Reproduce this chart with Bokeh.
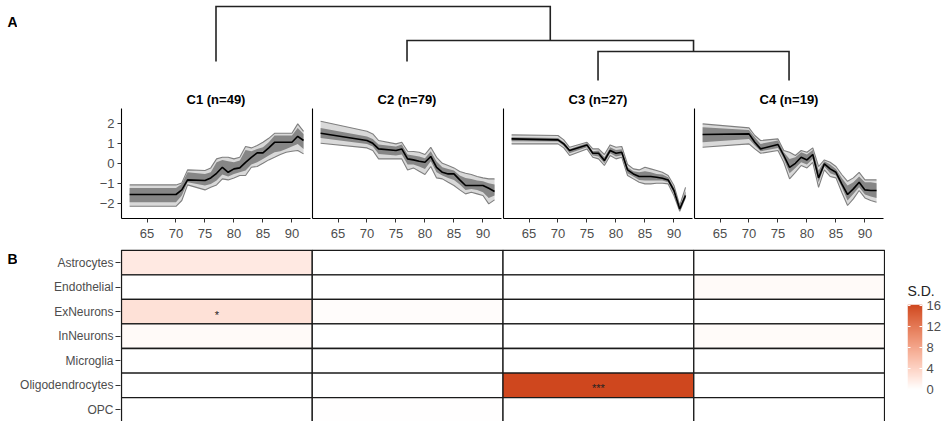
import numpy as np
from bokeh.plotting import figure
from bokeh.layouts import column, row
from bokeh.models import (Range1d, FixedTicker, ColumnDataSource, LinearColorMapper, Label)
from bokeh.core.properties import value
from bokeh.embed import file_html
from bokeh.resources import INLINE

FONT = "Liberation Sans"

# ---------------- data ----------------
years = [62, 70, 71, 72, 75, 76, 77, 78, 79, 80, 81, 82, 83, 84, 85, 86, 87, 88, 89, 90, 91, 92]
clusters = ["C1", "C2", "C3", "C4"]
cluster_n = [49, 79, 27, 19]

c1_med = [-1.53, -1.53, -1.3, -0.8, -0.83, -0.7, -0.47, -0.17, -0.42, -0.25, -0.2, 0.08, 0.33, 0.55, 0.55, 0.8, 1.08, 1.08, 1.08, 1.08, 1.38, 1.17]
c1_outer_hi = [-1.05, -1.05, -0.95, -0.3, -0.33, -0.2, 0.25, 0.33, 0.33, 0.25, 0.33, 0.87, 0.8, 0.92, 1.08, 1.28, 1.53, 1.53, 1.53, 1.53, 2.0, 1.63]
c1_outer_lo = [-2.12, -2.12, -1.83, -1.05, -1.3, -1.17, -1.05, -0.75, -0.8, -0.7, -0.58, -0.58, -0.17, -0.13, 0.03, 0.2, 0.33, 0.47, 0.58, 0.63, 0.67, 0.5]
c1_inner_hi = [-1.2, -1.2, -1.0, -0.42, -0.5, -0.42, 0.08, 0.2, 0.13, 0.08, 0.17, 0.7, 0.63, 0.75, 0.83, 1.08, 1.42, 1.42, 1.42, 1.42, 1.8, 1.5]
c1_inner_lo = [-1.92, -1.92, -1.58, -0.92, -1.08, -1.0, -0.83, -0.53, -0.63, -0.5, -0.42, -0.33, -0.03, 0.08, 0.25, 0.42, 0.58, 0.63, 0.75, 0.87, 1.0, 0.75]

c2_med = [1.53, 1.17, 1.03, 0.75, 0.67, 0.75, 0.25, 0.2, 0.13, 0.08, 0.37, -0.17, -0.42, -0.5, -0.5, -0.8, -1.08, -1.08, -1.08, -1.08, -1.22, -1.38]
c2_outer_hi = [2.13, 1.63, 1.5, 1.17, 1.0, 1.08, 0.63, 0.62, 0.58, 0.47, 0.83, 0.33, 0.03, -0.08, -0.2, -0.38, -0.47, -0.53, -0.63, -0.7, -0.75, -0.75]
c2_outer_lo = [1.03, 0.8, 0.67, 0.25, 0.25, 0.25, -0.3, -0.2, -0.37, -0.53, -0.13, -0.7, -0.75, -0.92, -1.08, -1.3, -1.5, -1.42, -1.5, -1.58, -2.0, -1.8]
c2_inner_hi = [1.8, 1.37, 1.25, 0.97, 0.87, 0.97, 0.47, 0.42, 0.37, 0.28, 0.63, 0.12, -0.17, -0.25, -0.33, -0.58, -0.7, -0.75, -0.83, -0.87, -0.97, -1.03]
c2_inner_lo = [1.3, 1.0, 0.87, 0.5, 0.42, 0.47, -0.03, -0.03, -0.13, -0.25, 0.13, -0.42, -0.58, -0.7, -0.8, -1.03, -1.3, -1.25, -1.3, -1.42, -1.7, -1.58]

c3_med = [1.25, 1.2, 1.0, 0.67, 0.95, 0.53, 0.53, 0.17, 0.67, 0.53, 0.58, -0.3, -0.5, -0.63, -0.63, -0.63, -0.67, -0.72, -0.8, -1.33, -2.25, -1.58]
c3_outer_hi = [1.45, 1.42, 1.2, 0.83, 1.08, 0.75, 0.75, 0.47, 0.95, 0.83, 0.87, -0.03, -0.25, -0.3, -0.17, -0.25, -0.33, -0.42, -0.58, -1.08, -2.08, -1.17]
c3_outer_lo = [1.0, 1.0, 0.8, 0.42, 0.75, 0.33, 0.25, -0.08, 0.42, 0.25, 0.33, -0.58, -0.75, -0.92, -1.0, -1.0, -0.97, -0.97, -1.0, -1.58, -2.37, -1.67]
c3_inner_hi = [1.33, 1.3, 1.08, 0.75, 1.03, 0.63, 0.67, 0.33, 0.83, 0.7, 0.73, -0.17, -0.37, -0.42, -0.37, -0.42, -0.5, -0.53, -0.67, -1.2, -2.17, -1.37]
c3_inner_lo = [1.13, 1.12, 0.9, 0.53, 0.83, 0.42, 0.37, 0.03, 0.53, 0.37, 0.43, -0.47, -0.63, -0.8, -0.83, -0.83, -0.83, -0.83, -0.92, -1.47, -2.3, -1.58]

c4_med = [1.47, 1.5, 1.08, 0.75, 0.97, 0.42, -0.17, 0.03, 0.33, 0.2, 0.47, -0.7, 0.0, -0.25, -0.42, -1.0, -1.53, -1.25, -0.92, -1.3, -1.33, -1.33]
c4_outer_hi = [2.0, 1.8, 1.42, 1.17, 1.25, 0.67, 0.58, 0.42, 0.67, 0.58, 0.8, -0.13, 0.2, 0.08, -0.13, -0.53, -0.87, -0.7, -0.42, -0.8, -0.8, -0.8]
c4_outer_lo = [0.83, 1.0, 0.75, 0.53, 0.67, 0.08, -0.75, -0.42, -0.08, -0.2, 0.08, -1.17, -0.3, -0.63, -0.7, -1.42, -2.08, -1.75, -1.33, -1.7, -1.83, -1.92]
c4_inner_hi = [1.83, 1.7, 1.33, 1.0, 1.17, 0.58, 0.25, 0.33, 0.58, 0.47, 0.7, -0.33, 0.13, -0.03, -0.25, -0.7, -1.08, -0.92, -0.63, -0.92, -0.92, -0.97]
c4_inner_lo = [1.08, 1.25, 0.92, 0.63, 0.8, 0.25, -0.47, -0.2, 0.08, -0.03, 0.25, -0.92, -0.13, -0.47, -0.58, -1.17, -1.83, -1.5, -1.17, -1.53, -1.63, -1.7]

x_ticks = [65, 70, 75, 80, 85, 90]
y_ticks = [-2, -1, 0, 1, 2]
y_tick_labels = ["\u22122", "\u22121", "0", "1", "2"]

# dendrogram: leaves 0..3, merged nodes get ids 4, 5, 6
leaf_pos = [1, 2, 3, 4]
leaf_base = [1.9, 1.9, 0.0, 0.0]
merge_left = [2, 1, 0]
merge_right = [3, 4, 5]
merge_height = [2.9, 4.0, 7.4]

# heatmap (S.D.)
cell_types = ["Astrocytes", "Endothelial", "ExNeurons", "InNeurons", "Microglia", "Oligodendrocytes", "OPC"]
sd_c1 = [2.0, 0.0, 2.7, 0.5, 0.0, 0.0, 0.0]
sd_c2 = [0.0, 0.0, 0.3, 0.0, 0.0, 0.0, 0.12]
sd_c3 = [0.0, 0.0, 0.0, 0.0, 0.0, 16.2, 0.0]
sd_c4 = [0.0, 0.5, 0.0, 0.4, 0.0, 0.0, 0.0]
stars_c1 = ["", "", "*", "", "", "", ""]
stars_c2 = ["", "", "", "", "", "", ""]
stars_c3 = ["", "", "", "", "", "***", ""]
stars_c4 = ["", "", "", "", "", "", ""]
legend_ticks = [0, 4, 8, 12, 16]
sd_max = 16.2

# ---------------- styling helpers ----------------
AX_TEXT = "#4d4d4d"
PANEL_W = 189
C1_LEFT = 121
TAG_W = 17            # width of the little "A"/"B" tag figures
HM_LEFT = 102         # left border of heatmap (frame starts at 119)
HM_FRAME = 766
LEG_W = 60
X_RANGE_HM = (0.4948, 4.505)


def style_common(p):
    p.xgrid.visible = False
    p.ygrid.visible = False
    p.outline_line_color = None
    p.background_fill_color = "white"
    p.border_fill_color = "white"


def tag_figure(letter, height, y_screen):
    f = figure(width=TAG_W, height=height, output_backend="svg", toolbar_location=None,
               x_range=Range1d(0, 1), y_range=Range1d(0, 1),
               min_border_left=0, min_border_right=0, min_border_top=0, min_border_bottom=0,
               x_axis_location=None, y_axis_location=None)
    style_common(f)
    f.add_layout(Label(x=7, y=y_screen, x_units="screen", y_units="screen", text=letter,
                       text_font=FONT, text_font_size="14px", text_font_style="bold",
                       text_baseline="alphabetic", text_color="black"))
    return f


# ---- Lab-space gradient (white -> orange red), like ggplot's gradient scale ----
_M = np.array([[0.4124, 0.3576, 0.1805], [0.2126, 0.7152, 0.0722], [0.0193, 0.1192, 0.9505]])
_WHITE = np.array([0.95047, 1.0, 1.08883])


def _to_lab(rgb):
    c = np.array(rgb, dtype=float) / 255
    lin = np.where(c <= 0.04045, c / 12.92, ((c + 0.055) / 1.055) ** 2.4)
    xyz = _M @ lin / _WHITE
    d = 6 / 29
    f = np.where(xyz > d ** 3, np.cbrt(xyz), xyz / (3 * d * d) + 4 / 29)
    return np.array([116 * f[1] - 16, 500 * (f[0] - f[1]), 200 * (f[1] - f[2])])


def _from_lab(lab):
    L, a, b = lab
    fy = (L + 16) / 116
    fx = fy + a / 500
    fz = fy - b / 200
    d = 6 / 29
    f = np.array([fx, fy, fz])
    xyz = np.where(f > d, f ** 3, 3 * d * d * (f - 4 / 29)) * _WHITE
    lin = np.linalg.solve(_M, xyz)
    lin = np.clip(lin, 0, 1)
    c = np.where(lin <= 0.0031308, 12.92 * lin, 1.055 * lin ** (1 / 2.4) - 0.055)
    return tuple(int(round(v * 255)) for v in np.clip(c, 0, 1))


lab_lo = _to_lab((255, 255, 255))
lab_hi = _to_lab((207, 71, 30))
palette = []
for k in range(256):
    t = k / 255
    r, g, b = _from_lab(lab_lo + (lab_hi - lab_lo) * t)
    palette.append(f"#{r:02x}{g:02x}{b:02x}")
mapper = LinearColorMapper(palette=palette, low=0, high=sd_max)

# ---------------- dendrogram ----------------
tag_a = tag_figure("A", 88, 66.5)
dend = figure(width=HM_LEFT + HM_FRAME + LEG_W, height=88, output_backend="svg",
              toolbar_location=None,
              x_range=Range1d(*X_RANGE_HM), y_range=Range1d(-0.8, 8.0),
              min_border_left=HM_LEFT, min_border_right=LEG_W, min_border_top=0,
              min_border_bottom=0, x_axis_location=None, y_axis_location=None)
style_common(dend)
node_x = list(leaf_pos)
node_y = list(leaf_base)
xs, ys = [], []
for a, b, h in zip(merge_left, merge_right, merge_height):
    xs.append([node_x[a], node_x[a], node_x[b], node_x[b]])
    ys.append([node_y[a], h, h, node_y[b]])
    node_x.append((node_x[a] + node_x[b]) / 2)
    node_y.append(h)
dend.multi_line(xs=xs, ys=ys, line_color="#222222", line_width=1.6, line_join="miter")

# ---------------- line panels ----------------
meds = [c1_med, c2_med, c3_med, c4_med]
ohis = [c1_outer_hi, c2_outer_hi, c3_outer_hi, c4_outer_hi]
olos = [c1_outer_lo, c2_outer_lo, c3_outer_lo, c4_outer_lo]
ihis = [c1_inner_hi, c2_inner_hi, c3_inner_hi, c4_inner_hi]
ilos = [c1_inner_lo, c2_inner_lo, c3_inner_lo, c4_inner_lo]

panels = []
for i in range(4):
    first = i == 0
    p = figure(width=(C1_LEFT + PANEL_W + 1) if first else (PANEL_W + 2), height=158,
               output_backend="svg", toolbar_location=None,
               x_range=Range1d(60.6, 93.2), y_range=Range1d(-2.73, 2.77),
               min_border_left=C1_LEFT if first else 1, min_border_right=1,
               min_border_top=20, min_border_bottom=28,
               title=f"{clusters[i]} (n={cluster_n[i]})")
    style_common(p)
    p.title.align = "center"
    p.title.text_font = FONT
    p.title.text_font_size = "13px"
    p.title.text_font_style = "bold"
    p.title.text_color = "black"
    p.title.standoff = 3
    p.title.offset = 0

    p.varea(x=years, y1=olos[i], y2=ohis[i], fill_color="#d9d9d9")
    p.line(years, olos[i], line_color="#7f7f7f", line_width=1.1)
    p.line(years, ohis[i], line_color="#7f7f7f", line_width=1.1)
    p.varea(x=years, y1=ilos[i], y2=ihis[i], fill_color="#868686")
    p.line(years, meds[i], line_color="black", line_width=1.6)

    for ax in (p.xaxis[0], p.yaxis[0]):
        ax.axis_line_color = "black"
        ax.axis_line_width = 1.1
        ax.major_tick_line_color = "#333333"
        ax.major_tick_out = 4
        ax.major_tick_in = 0
        ax.minor_tick_line_color = None
        ax.major_label_text_font = FONT
        ax.major_label_text_font_size = "13px"
        ax.major_label_text_color = AX_TEXT
    p.xaxis.ticker = FixedTicker(ticks=x_ticks)
    p.xaxis.major_label_standoff = 6
    if first:
        p.yaxis.ticker = FixedTicker(ticks=y_ticks)
        p.yaxis.major_label_overrides = {t: s for t, s in zip(y_ticks, y_tick_labels)}
        p.yaxis.major_label_standoff = 3
    else:
        p.yaxis.ticker = FixedTicker(ticks=[])
        p.yaxis.major_label_standoff = 0
        p.yaxis.major_tick_out = 0
    panels.append(p)

# ---------------- heatmap ----------------
sd_cols = [sd_c1, sd_c2, sd_c3, sd_c4]
star_cols = [stars_c1, stars_c2, stars_c3, stars_c4]
n_rows = len(cell_types)
hx, hy, hv, hs = [], [], [], []
for j in range(4):
    for r_i, ct in enumerate(cell_types):
        hx.append(j + 1)
        hy.append(n_rows - r_i - 0.5)
        hv.append(sd_cols[j][r_i])
        hs.append(star_cols[j][r_i])
src = ColumnDataSource(dict(x=hx, y=hy, v=hv, s=hs))

tag_b = tag_figure("B", 175, 162.5)
hm = figure(width=HM_LEFT + HM_FRAME, height=175, output_backend="svg", toolbar_location=None,
            x_range=Range1d(*X_RANGE_HM), y_range=Range1d(0.03, 7.03),
            min_border_left=HM_LEFT, min_border_right=0, min_border_top=3, min_border_bottom=0,
            x_axis_location=None)
style_common(hm)
hm.rect(x="x", y="y", width=1, height=1, source=src,
        fill_color={"field": "v", "transform": mapper},
        line_color="#1a1a1a", line_width=1.3)
hm.text(x="x", y="y", text="s", source=src, text_align="center", text_baseline="middle",
        text_font=value(FONT), text_font_size="11px", text_color="#222222", y_offset=3)
yt = [n_rows - r_i - 0.5 for r_i in range(n_rows)]
hm.yaxis.ticker = FixedTicker(ticks=yt)
hm.yaxis.major_label_overrides = {t: ct for t, ct in zip(yt, cell_types)}
hm.yaxis.axis_line_color = None
hm.yaxis.major_tick_line_color = "#333333"
hm.yaxis.major_tick_out = 5
hm.yaxis.major_tick_in = 0
hm.yaxis.minor_tick_line_color = None
hm.yaxis.major_label_standoff = 2
hm.yaxis.major_label_text_font = FONT
hm.yaxis.major_label_text_font_size = "12px"
hm.yaxis.major_label_text_color = AX_TEXT

# ---------------- legend (S.D.) ----------------
leg = figure(width=LEG_W, height=175, output_backend="svg", toolbar_location=None,
             x_range=Range1d(0, 1), y_range=Range1d(0, sd_max),
             min_border_left=22, min_border_right=23, min_border_top=58, min_border_bottom=32,
             x_axis_location=None, y_axis_location="right", title="S.D.")
style_common(leg)
ramp = np.linspace(0, sd_max, 256).reshape(-1, 1)
leg.image(image=[ramp], x=0, y=0, dw=1, dh=sd_max, color_mapper=mapper)
leg.segment(x0=[0] * len(legend_ticks), x1=[0.2] * len(legend_ticks),
            y0=legend_ticks, y1=legend_ticks, line_color="white", line_width=1)
leg.segment(x0=[0.8] * len(legend_ticks), x1=[1] * len(legend_ticks),
            y0=legend_ticks, y1=legend_ticks, line_color="white", line_width=1)
leg.title.text_font = FONT
leg.title.text_font_size = "14px"
leg.title.text_font_style = "normal"
leg.title.text_color = "#222222"
leg.title.align = "left"
leg.title.standoff = 12
leg.title.offset = 0
ra = leg.yaxis[0]
ra.ticker = FixedTicker(ticks=legend_ticks)
ra.axis_line_color = None
ra.major_tick_line_color = None
ra.major_tick_in = 0
ra.major_tick_out = 0
ra.minor_tick_line_color = None
ra.major_label_standoff = 4
ra.major_label_text_font = FONT
ra.major_label_text_font_size = "13px"
ra.major_label_text_color = AX_TEXT

layout = column(row(tag_a, dend), row(*panels), row(column(tag_b), hm, column(leg)))
open("out.html", "w").write(file_html(layout, INLINE))
